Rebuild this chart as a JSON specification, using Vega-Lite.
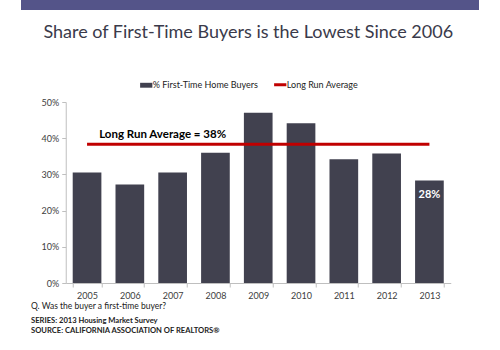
{
  "$schema": "https://vega.github.io/schema/vega-lite/v6.json",
  "padding": {"left": 21, "top": 0, "right": 0, "bottom": 0},
  "spacing": 14,
  "center": false,
  "background": "white",
  "config": {
    "view": {"stroke": null},
    "font": "Lato",
    "axisY": {
      "grid": false,
      "labelFontSize": 9,
      "labelColor": "#404040",
      "labelPadding": 3,
      "labelOverlap": false,
      "tickColor": "#bfbfbf",
      "domainColor": "#bfbfbf",
      "tickSize": 4
    }
  },
  "resolve": {"legend": {"color": "independent"}},
  "vconcat": [
    {
      "width": 458,
      "height": 10,
      "data": {"values": [{"part": "header"}]},
      "mark": {"type": "rect", "color": "#545489"},
      "encoding": {}
    },
    {
      "spacing": 1,
      "center": true,
      "resolve": {"legend": {"color": "independent"}},
      "vconcat": [
        {
          "width": 385,
          "height": 181,
          "title": {
            "text": "Share of First-Time Buyers is the Lowest Since 2006",
            "fontSize": 18,
            "font": "Lato",
            "fontWeight": "normal",
            "color": "#3a3a4a",
            "anchor": "middle",
            "frame": "group",
            "dx": -10,
            "offset": 38
          },
          "data": {
            "values": [
              {"year": "2005", "pct": 30.5, "avg": 38.3, "note": "", "label": ""},
              {"year": "2006", "pct": 27.2, "avg": 38.3, "note": "", "label": ""},
              {"year": "2007", "pct": 30.5, "avg": 38.3, "note": "Long Run Average = 38%", "label": ""},
              {"year": "2008", "pct": 36.0, "avg": 38.3, "note": "", "label": ""},
              {"year": "2009", "pct": 47.0, "avg": 38.3, "note": "", "label": ""},
              {"year": "2010", "pct": 44.1, "avg": 38.3, "note": "", "label": ""},
              {"year": "2011", "pct": 34.2, "avg": 38.3, "note": "", "label": ""},
              {"year": "2012", "pct": 35.8, "avg": 38.3, "note": "", "label": ""},
              {"year": "2013", "pct": 28.3, "avg": 38.3, "note": "", "label": "28%"}
            ]
          },
          "encoding": {
            "x": {
              "field": "year",
              "type": "ordinal",
              "title": null,
              "scale": {"paddingInner": 0.33, "paddingOuter": 0.163},
              "axis": {
                "labelAngle": 0,
                "labelFontSize": 9,
                "labelColor": "#404040",
                "labelPadding": 4,
                "tickColor": "#bfbfbf",
                "domainColor": "#bfbfbf",
                "tickSize": 4,
                "tickBand": "extent"
              }
            }
          },
          "layer": [
            {
              "mark": {"type": "bar", "color": "#41414f"},
              "encoding": {
                "y": {
                  "field": "pct",
                  "type": "quantitative",
                  "title": null,
                  "scale": {"domain": [0, 50]},
                  "axis": {"values": [0, 10, 20, 30, 40, 50], "labelExpr": "datum.value + '%'"}
                },
                "color": {
                  "datum": "% First-Time Home Buyers",
                  "type": "nominal",
                  "scale": {
                    "domain": ["% First-Time Home Buyers", "Long Run Average"],
                    "range": ["#41414f", "#c00000"]
                  },
                  "legend": {
                    "title": null,
                    "orient": "none",
                    "direction": "horizontal",
                    "legendX": 76,
                    "legendY": -22,
                    "labelFontSize": 9,
                    "labelColor": "#222222",
                    "labelOffset": 2,
                    "columnPadding": 9,
                    "symbolSize": 150,
                    "encode": {
                      "symbols": {
                        "update": {
                          "shape": {"signal": "datum.label === 'Long Run Average' ? 'stroke' : 'M-1,-0.4H1V0.4H-1Z'"},
                          "stroke": {"signal": "scale('color', datum.value)"},
                          "fill": {"signal": "scale('color', datum.value)"},
                          "strokeWidth": {"signal": "datum.label === 'Long Run Average' ? 3 : 0"}
                        }
                      }
                    }
                  }
                }
              }
            },
            {
              "mark": {"type": "line", "strokeWidth": 3},
              "encoding": {
                "y": {"field": "avg", "type": "quantitative", "title": null, "axis": {"values": [0, 10, 20, 30, 40, 50], "labelExpr": "datum.value + '%'"}},
                "color": {"datum": "Long Run Average", "type": "nominal"}
              }
            },
            {
              "transform": [{"filter": "datum.note != ''"}],
              "mark": {"type": "text", "fontSize": 11.5, "fontWeight": "bold", "color": "#000000", "dx": -10, "dy": -9},
              "encoding": {
                "y": {"field": "avg", "type": "quantitative", "title": null, "axis": {"values": [0, 10, 20, 30, 40, 50], "labelExpr": "datum.value + '%'"}},
                "text": {"field": "note"}
              }
            },
            {
              "transform": [{"filter": "datum.label != ''"}],
              "mark": {"type": "text", "fontSize": 11, "fontWeight": "bold", "color": "#ffffff", "dy": 14},
              "encoding": {
                "y": {"field": "pct", "type": "quantitative", "title": null, "axis": {"values": [0, 10, 20, 30, 40, 50], "labelExpr": "datum.value + '%'"}},
                "text": {"field": "label"}
              }
            }
          ]
        },
        {
          "width": 477,
          "height": 1,
          "data": {"values": [{"part": "footer"}]},
          "mark": {"type": "text", "text": ""},
          "encoding": {},
          "title": {
            "text": "Q. Was the buyer a first-time buyer?",
            "subtitle": ["SERIES: 2013 Housing Market Survey", "SOURCE:  CALIFORNIA ASSOCIATION OF REALTORS®"],
            "anchor": "start",
            "frame": "group",
            "dx": 10,
            "fontSize": 8.5,
            "fontWeight": "normal",
            "color": "#222222",
            "subtitleFontSize": 7.6,
            "subtitleFontWeight": "bold",
            "subtitleColor": "#222222",
            "subtitleLineHeight": 9.5,
            "subtitlePadding": 7,
            "offset": 0
          }
        }
      ]
    }
  ]
}
